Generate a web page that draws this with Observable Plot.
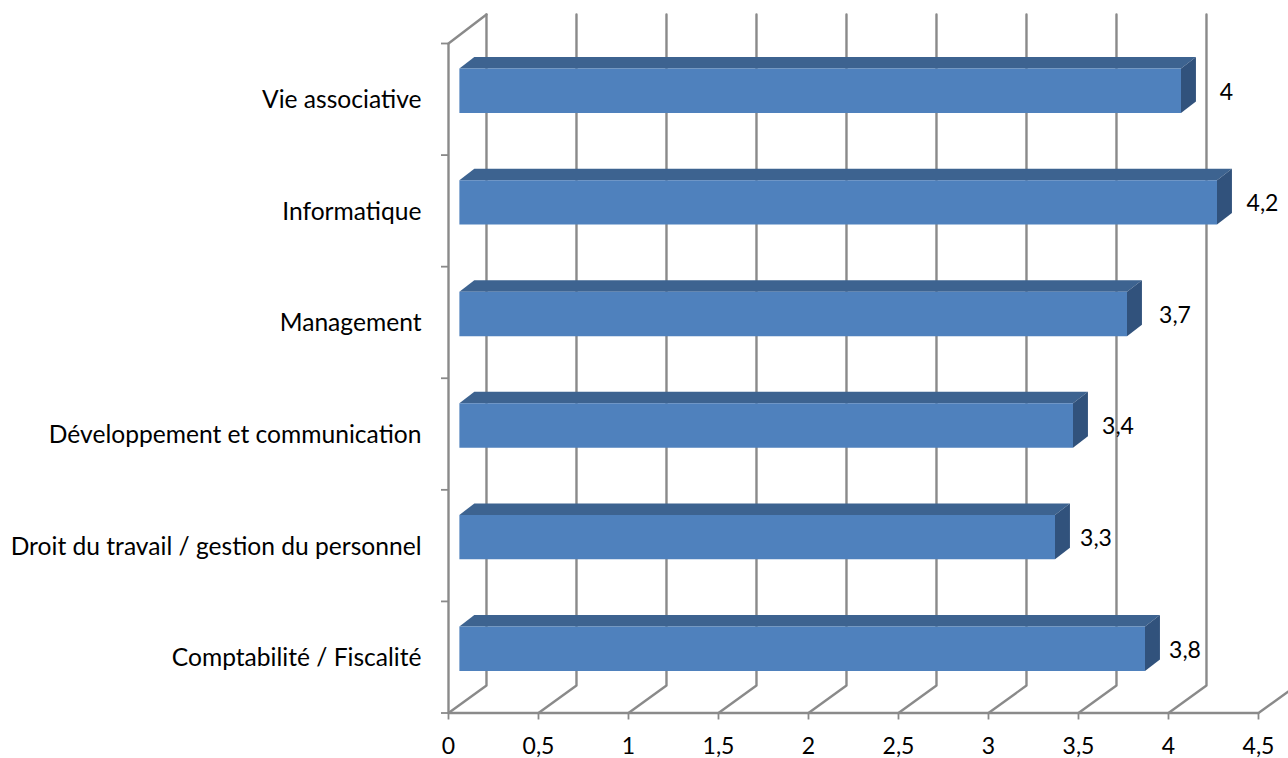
<!DOCTYPE html>
<html>
<head>
<meta charset="utf-8">
<script src="https://cdn.jsdelivr.net/npm/d3@7"></script>
<script src="https://cdn.jsdelivr.net/npm/@observablehq/plot@0.6"></script>
<style>
html,body{margin:0;padding:0;background:#fff}
svg{display:block}
</style>
</head>
<body>
<div id="chart"></div>
<script>
// Data, bottom to top
const categories = ["Comptabilité / Fiscalité","Droit du travail / gestion du personnel","Développement et communication","Management","Informatique","Vie associative"];
const values = [3.8,3.3,3.4,3.7,4.2,4];
const xTicks = [0,0.5,1,1.5,2,2.5,3,3.5,4,4.5];

const comma = v => String(v).replace(".", ",");

// Perspective geometry, expressed in scale units
const wallX = 0.211, wallYBottom = 0.246, wallYTop = 0.26;
const depthX = 0.083, depthY = 0.103, halfBar = 0.199, barLift = 0.076, barBase = -0.009;
const GRID = "#8a8a8a";
const FRONT = "#4f81bd", TOP = "#3d6390", SIDE = "#31527c";

const n = categories.length;
const gridPts = xTicks.flatMap(v => [
  {id:v, x:v, y:0},
  {id:v, x:v+wallX, y:wallYBottom},
  {id:v, x:v+wallX, y:n+wallYTop}
]);
const wallTop = [{x:0,y:n},{x:wallX,y:n+wallYTop}];

const bars = categories.map((c,i)=>({c, v:values[i], lo:i+0.5+barLift-halfBar, hi:i+0.5+barLift+halfBar}));
const face = (pts) => bars.flatMap(b => pts(b).map(([x,y]) => ({id:b.c, x, y})));
const frontFace = face(b => [[barBase,b.lo],[b.v,b.lo],[b.v,b.hi],[barBase,b.hi]]);
const topFace   = face(b => [[barBase,b.hi],[b.v,b.hi],[b.v+depthX,b.hi+depthY],[barBase+depthX,b.hi+depthY]]);
const sideFace  = face(b => [[b.v,b.lo],[b.v+depthX,b.lo+depthY],[b.v+depthX,b.hi+depthY],[b.v,b.hi]]);

const barDx = 12.5;
const faceOpts = (fill) => ({x:"x", y:"y", z:"id", fill, stroke:"none", dx:barDx, curve:"linear"});

// Small manual nudges of the value labels, as placed in the reference
const labelDx = {"4":45.5,"4.2":45.5,"3.7":48,"3.4":45,"3.3":41,"3.8":40};

const chart = Plot.plot({
  width:1288, height:758,
  marginLeft:448, marginRight:30, marginTop:43, marginBottom:45.5,
  style:{fontFamily:"Lato, Carlito, sans-serif", color:"#000", background:"#fff"},
  x:{domain:[0,4.5], axis:null},
  y:{domain:[0,n], axis:null},
  marks:[
    Plot.line(gridPts,{x:"x",y:"y",z:"id",stroke:GRID,strokeWidth:2.4,curve:"linear"}),
    Plot.line(wallTop,{x:"x",y:"y",stroke:GRID,strokeWidth:2.4}),
    Plot.ruleX([0],{y1:0,y2:n,stroke:GRID,strokeWidth:2.4}),
    Plot.ruleY([0],{x1:0,x2:4.5,stroke:GRID,strokeWidth:2.4}),
    Plot.axisX({ticks:xTicks,tickFormat:comma,tickSize:7,tickPadding:18,stroke:GRID,strokeWidth:1.8,fontSize:23,color:"#000",anchor:"bottom",label:null}),
    Plot.axisY({ticks:d3.range(0,n+1),tickFormat:()=>"",tickSize:7,stroke:GRID,strokeWidth:1.8,anchor:"left",label:null}),
    Plot.axisY({ticks:categories.map((c,i)=>i+0.5),tickFormat:d=>categories[d-0.5],tickSize:0,tickPadding:27,fontSize:24.6,dy:1,color:"#000",anchor:"left",label:null}),
    Plot.line(topFace,faceOpts(TOP)),
    Plot.line(sideFace,faceOpts(SIDE)),
    Plot.line(frontFace,faceOpts(FRONT)),
    ...bars.map(b => Plot.text([b],{
      x:"v", y:d=>d.lo+halfBar, text:d=>comma(d.v),
      dx:barDx+labelDx[String(b.v)], dy:1.5, fontSize:23, fill:"#000", textAnchor:"middle"
    }))
  ]
});
document.getElementById("chart").appendChild(chart);
</script>
</body>
</html>
